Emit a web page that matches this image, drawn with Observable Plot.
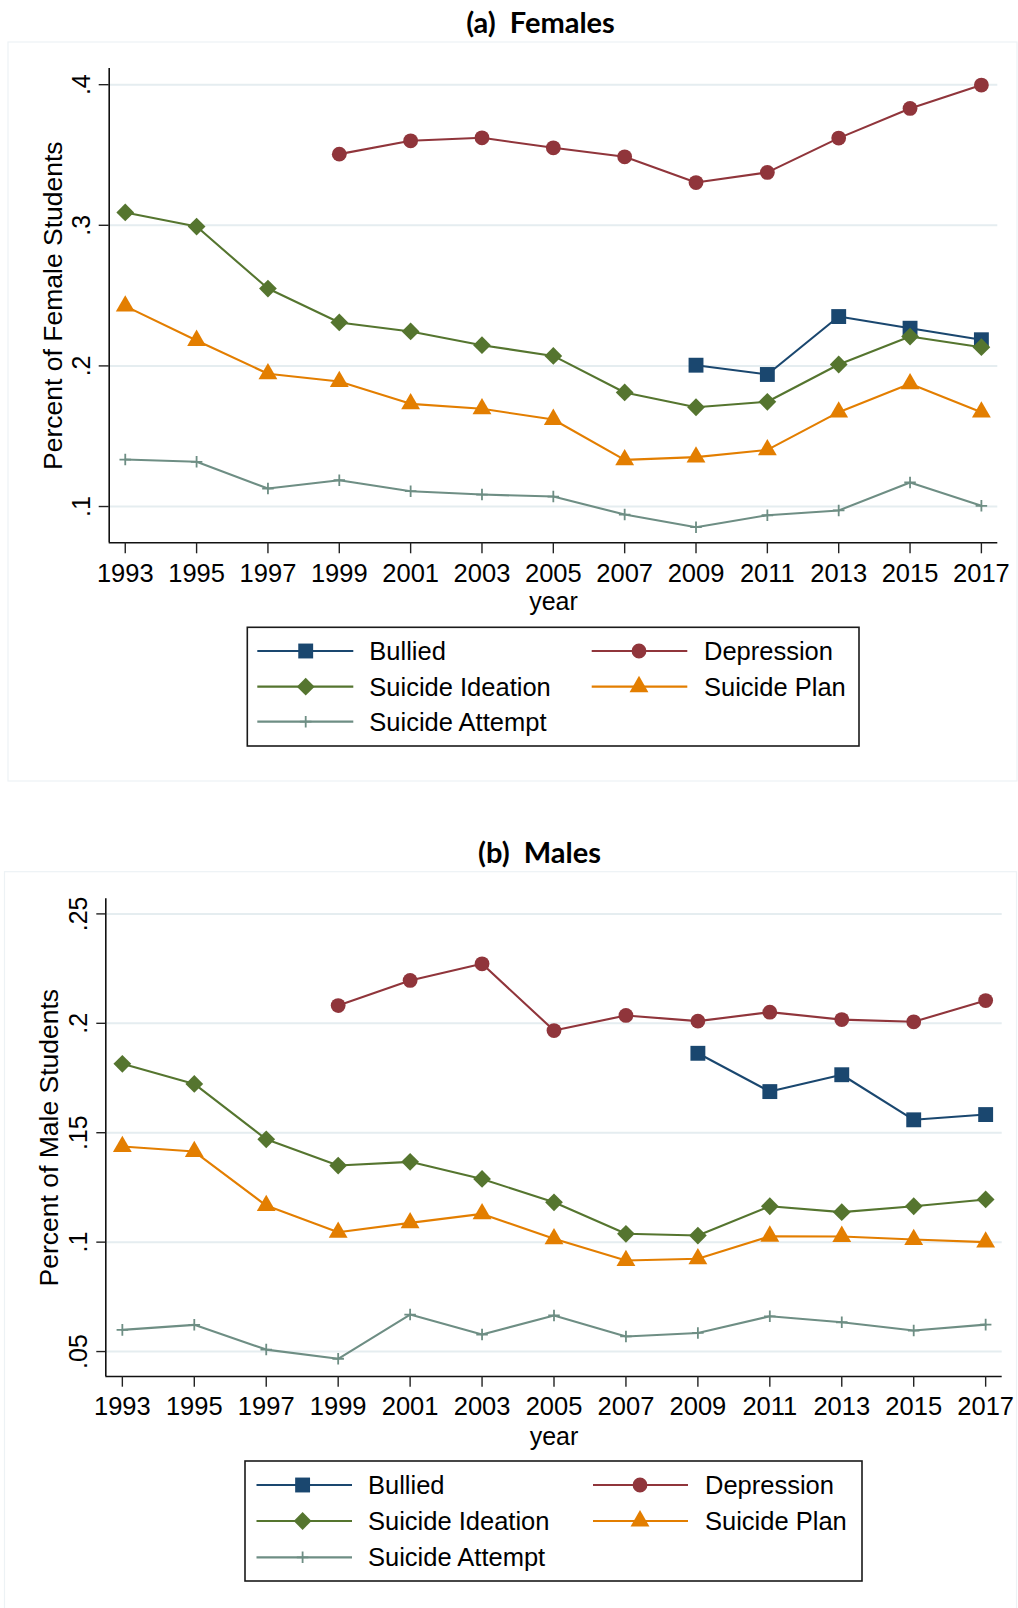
<!DOCTYPE html>
<html>
<head>
<meta charset="utf-8">
<script src="https://cdn.jsdelivr.net/npm/d3@7"></script>
<script src="https://cdn.jsdelivr.net/npm/@observablehq/plot@0.6"></script>
<style>
  body { margin: 0; background: #fff; }
  #root { position: relative; width: 1018px; height: 1608px; overflow: hidden; background: #fff;
          font-family: "Liberation Sans", Arial, sans-serif; }
  .chart { position: absolute; left: 0; }
  #overlay { position: absolute; left: 0; top: 0; pointer-events: none; }
</style>
</head>
<body>
<div id="root"></div>
<script>
// ---------------- DATA ----------------
const years = [1993, 1995, 1997, 1999, 2001, 2003, 2005, 2007, 2009, 2011, 2013, 2015, 2017];

const seriesNames = ["Bullied", "Depression", "Suicide Ideation", "Suicide Plan", "Suicide Attempt"];

// (a) Females
const femaleBullied    = [null, null, null, null, null, null, null, null, 0.2005, 0.1939, 0.2351, 0.2268, 0.2186];
const femaleDepression = [null, null, null, 0.3506, 0.3601, 0.3622, 0.3551, 0.3487, 0.3304, 0.3376, 0.3620, 0.3831, 0.3997];
const femaleIdeation   = [0.3091, 0.2991, 0.2550, 0.2309, 0.2245, 0.2147, 0.2071, 0.1811, 0.1706, 0.1745, 0.2010, 0.2209, 0.2133];
const femalePlan       = [0.2425, 0.2181, 0.1944, 0.1889, 0.1730, 0.1695, 0.1619, 0.1332, 0.1351, 0.1403, 0.1671, 0.1873, 0.1671];
const femaleAttempt    = [0.1334, 0.1318, 0.1128, 0.1187, 0.1109, 0.1085, 0.1071, 0.0943, 0.0853, 0.0938, 0.0972, 0.1171, 0.1005];

// (b) Males
const maleBullied    = [null, null, null, null, null, null, null, null, 0.1863, 0.1688, 0.1765, 0.1559, 0.1583];
const maleDepression = [null, null, null, 0.2081, 0.2196, 0.2272, 0.1967, 0.2036, 0.2010, 0.2051, 0.2017, 0.2007, 0.2104];
const maleIdeation   = [0.1815, 0.1723, 0.1470, 0.1350, 0.1367, 0.1289, 0.1182, 0.1038, 0.1030, 0.1164, 0.1137, 0.1164, 0.1195];
const malePlan       = [0.1437, 0.1414, 0.1167, 0.1045, 0.1088, 0.1129, 0.1015, 0.0916, 0.0924, 0.1027, 0.1026, 0.1012, 0.1000];
const maleAttempt    = [0.0599, 0.0622, 0.0509, 0.0467, 0.0669, 0.0578, 0.0665, 0.0569, 0.0585, 0.0661, 0.0634, 0.0596, 0.0623];

const femaleTicks = [0.1, 0.2, 0.3, 0.4];
const maleTicks = [0.05, 0.1, 0.15, 0.2, 0.25];

const femaleTitle = "(a)  Females";
const maleTitle = "(b)  Males";
const femaleYLabel = "Percent of Female Students";
const maleYLabel = "Percent of Male Students";
const xLabel = "year";

// ---------------- STYLES ----------------
const seriesColors = ["#1a476f", "#90353b", "#55752f", "#e37e00", "#6e8e84"];
const seriesSymbols = ["square", "circle", "diamond2", "triangle", "plus"];
const seriesR = [8.4, 7.4, 8, 7, 3.8];
const FONT = '"Liberation Sans", Arial, sans-serif';
const gridColor = "#e5edf0";

function rowsFor(arr, name) {
  return years.map((y, i) => ({year: y, value: arr[i], series: name})).filter(d => d.value != null);
}
const fmtY = d => String(d).replace(/^0\./, ".");

function makePanel(cfg) {
  const marks = [
    Plot.gridY(cfg.yTicks, {stroke: gridColor, strokeOpacity: 1, strokeWidth: 2}),
    Plot.ruleX([cfg.xDomain[0]], {stroke: "#111", strokeWidth: 1.6}),
    Plot.ruleY([cfg.yDomain[0]], {stroke: "#111", strokeWidth: 1.6}),
    Plot.axisY(cfg.yTicks, {tickRotate: -90, tickSize: cfg.tickSizeY, tickPadding: cfg.tickPadY,
      tickFormat: fmtY, label: null, stroke: "#222", strokeWidth: 1.4}),
    Plot.axisX(years, {tickSize: cfg.tickSizeX, tickPadding: cfg.tickPadX, tickFormat: d => String(d),
      label: null, stroke: "#222", strokeWidth: 1.4, fontSize: 25.5}),
    Plot.text([cfg.yLabel], {frameAnchor: "left", dx: cfg.labelDx, rotate: -90, lineAnchor: "bottom",
      textAnchor: "middle", fill: "#000", fontSize: 26.5}),
    Plot.text([xLabel], {frameAnchor: "bottom", dy: cfg.yearDy, lineAnchor: "bottom", textAnchor: "middle", fill: "#000"})
  ];
  cfg.values.forEach((arr, i) => {
    const rows = rowsFor(arr, seriesNames[i]);
    marks.push(Plot.line(rows, {x: "year", y: "value", stroke: seriesColors[i], strokeWidth: 2.1}));
    if (seriesSymbols[i] === "plus") {
      marks.push(Plot.dot(rows, {x: "year", y: "value", symbol: "plus", r: seriesR[i],
        stroke: seriesColors[i], strokeWidth: 1.8, fill: "none"}));
    } else {
      marks.push(Plot.dot(rows, {x: "year", y: "value", symbol: seriesSymbols[i], r: seriesR[i],
        fill: seriesColors[i], stroke: "none"}));
    }
  });
  const chart = Plot.plot({
    width: 1018,
    height: cfg.height,
    marginTop: cfg.marginTop,
    marginBottom: cfg.marginBottom,
    marginLeft: cfg.marginLeft,
    marginRight: cfg.marginRight,
    x: {domain: cfg.xDomain},
    y: {domain: cfg.yDomain},
    style: {fontFamily: FONT, fontSize: "25px", color: "#000", background: "transparent", overflow: "visible"},
    marks
  });
  chart.classList.add("chart");
  chart.style.position = "absolute";
  chart.style.top = cfg.top + "px";
  chart.style.left = "0px";
  document.getElementById("root").appendChild(chart);
}

makePanel({
  top: 0, height: 620, marginTop: 68, marginBottom: 77.7, marginLeft: 108.7, marginRight: 20.7,
  xDomain: [1992.55, 2017.46], yDomain: [0.0742, 0.4115], yTicks: femaleTicks, yLabel: femaleYLabel,
  values: [femaleBullied, femaleDepression, femaleIdeation, femalePlan, femaleAttempt],
  tickSizeY: 10, tickPadY: 9, tickSizeX: 11, tickPadX: 9.7, labelDx: -47, yearDy: 67
});
makePanel({
  top: 830, height: 620, marginTop: 68.3, marginBottom: 74, marginLeft: 105.3, marginRight: 16.3,
  xDomain: [1992.54, 2017.46], yDomain: [0.0386, 0.2569], yTicks: maleTicks, yLabel: maleYLabel,
  values: [maleBullied, maleDepression, maleIdeation, malePlan, maleAttempt],
  tickSizeY: 9, tickPadY: 9.6, tickSizeX: 10.7, tickPadX: 9.6, labelDx: -48, yearDy: 68
});

// ---------------- OVERLAY: frames, titles, legends ----------------
const svg = d3.select("#root").append("svg").attr("id", "overlay").attr("width", 1018).attr("height", 1608);

// graph region frames
svg.append("rect").attr("x", 8).attr("y", 42).attr("width", 1009).attr("height", 739)
  .attr("fill", "none").attr("stroke", "#edf2f5").attr("stroke-width", 1.2);
svg.append("rect").attr("x", 4.5).attr("y", 871.7).attr("width", 1012).attr("height", 740)
  .attr("fill", "none").attr("stroke", "#edf2f5").attr("stroke-width", 1.2);

// titles
function title(text, x, y) {
  svg.append("text").attr("x", x).attr("y", y).attr("text-anchor", "middle")
    .style("white-space", "pre").style("font-family", "Lato, 'Open Sans', sans-serif")
    .style("font-weight", 700).style("font-size", "29px")
    .attr("fill", "#000").text(text);
}
title(femaleTitle, 540.5, 33.3);
title(maleTitle, 539.5, 863.3);

function legend(bx, by, bw, bh, rowY, col1, col2) {
  const g = svg.append("g").attr("transform", `translate(${bx},${by})`);
  g.append("rect").attr("x", 0).attr("y", 0).attr("width", bw).attr("height", bh)
    .attr("fill", "#fff").attr("stroke", "#1a1a1a").attr("stroke-width", 1.6);
  const slots = [[col1, rowY[0]], [col2, rowY[0]], [col1, rowY[1]], [col2, rowY[1]], [col1, rowY[2]]];
  const d3sym = {square: d3.symbolSquare, circle: d3.symbolCircle, diamond2: d3.symbolDiamond2,
                 triangle: d3.symbolTriangle, plus: d3.symbolPlus};
  seriesNames.forEach((name, i) => {
    const [c, y] = slots[i];
    g.append("line").attr("x1", c.x1).attr("x2", c.x2).attr("y1", y).attr("y2", y)
      .attr("stroke", seriesColors[i]).attr("stroke-width", 2.2);
    const size = Math.PI * seriesR[i] * seriesR[i];
    const p = g.append("path").attr("d", d3.symbol(d3sym[seriesSymbols[i]], size)())
      .attr("transform", `translate(${c.m},${y})`);
    if (seriesSymbols[i] === "plus") p.attr("fill", "none").attr("stroke", seriesColors[i]).attr("stroke-width", 1.8);
    else p.attr("fill", seriesColors[i]);
    g.append("text").attr("x", c.t).attr("y", y + 9).style("font-family", FONT).style("font-size", "25.5px")
      .attr("fill", "#000").text(name);
  });
}
legend(247.3, 627.3, 611.7, 118.7, [23.7, 59.4, 94.4],
  {x1: 10, x2: 106, m: 58.4, t: 122}, {x1: 344.4, x2: 440, m: 391.7, t: 456.7});
legend(245, 1461, 617, 120, [24, 60, 96.3],
  {x1: 11.5, x2: 107, m: 57.6, t: 123}, {x1: 348, x2: 443, m: 395, t: 460});
</script>
</body>
</html>
